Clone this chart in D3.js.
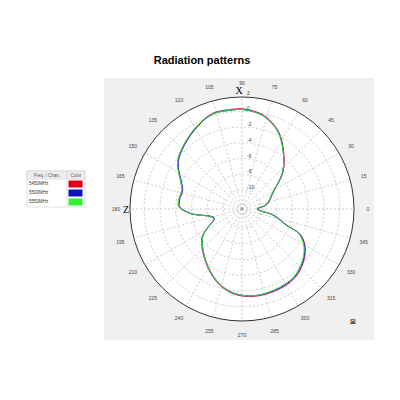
<!DOCTYPE html>
<html>
<head>
<script src="https://cdn.jsdelivr.net/npm/d3@7"></script>
<style>body{margin:0;background:#fff;font-family:"Liberation Sans",Arial,sans-serif}</style>
</head>
<body>
<script>
var angles = [0, 10, 29, 42, 54, 65, 77, 89, 97, 107, 118, 132, 144, 156, 162, 172, 178, 185, 198, 209, 216, 235, 251, 264, 278, 296, 310, 326, 336, 340, 349, 360];
var s5450 = [-10.4, -9.2, -7.8, -5.4, -3.4, -1.5, -0.2, 0.3, 0.3, 0.3, -0.4, -1.4, -2.3, -3.9, -4.4, -4.3, -4.4, -5.8, -8.6, -7.3, -6.1, -4.3, -2.6, -1.6, -1.2, -1.2, -1.5, -2.7, -4.2, -6.3, -8.3, -10.4];
var s5500 = [-10.5, -9.3, -7.9, -5.5, -3.5, -1.6, -0.3, 0.2, 0.2, 0.2, -0.5, -1.5, -2.4, -4.0, -4.5, -4.4, -4.5, -5.9, -8.7, -7.4, -6.2, -4.4, -2.7, -1.7, -1.3, -1.3, -1.6, -2.8, -4.3, -6.4, -8.4, -10.5];
var s5550 = [-10.5, -9.3, -7.9, -5.5, -3.5, -1.6, -0.3, 0.2, 0.2, 0.2, -0.4, -1.4, -2.3, -3.9, -4.4, -4.3, -4.4, -5.8, -8.6, -7.4, -6.2, -4.4, -2.7, -1.7, -1.3, -1.4, -1.7, -2.9, -4.4, -6.5, -8.4, -10.5];
var ringVals = [-10, -8, -6, -4, -2, 0];
var legendRows = ["5450MHz", "5500MHz", "5550MHz"];
var colors = ["#e0206a", "#1a1ad0", "#2ee02e"];

var svg = d3.select("body").append("svg").attr("width", 400).attr("height", 400);
svg.append("text").attr("x", 202).attr("y", 64).attr("text-anchor", "middle")
  .attr("font-size", 11).attr("font-weight", "bold").text("Radiation patterns");
svg.append("rect").attr("x", 104).attr("y", 78).attr("width", 270).attr("height", 262).attr("fill", "#f0f0f0");

var cx = 242, cy = 209, R = 112;
var r = d3.scaleLinear().domain([-12.4, 1.8]).range([0, R]);
var g = svg.append("g").attr("transform", "translate(" + cx + "," + cy + ")");
g.append("circle").attr("r", R).attr("fill", "#fff").attr("stroke", "#333").attr("stroke-width", 1);
g.selectAll(".ring").data(ringVals).enter().append("circle")
  .attr("r", function(d){return r(d);}).attr("fill", "none")
  .attr("stroke", "#aaa").attr("stroke-dasharray", "2,2").attr("stroke-width", 0.6);
var spokes = d3.range(0, 360, 15);
g.selectAll(".spoke").data(spokes).enter().append("line")
  .attr("x2", function(d){return R*Math.cos(d*Math.PI/180);})
  .attr("y2", function(d){return -R*Math.sin(d*Math.PI/180);})
  .attr("stroke", "#aaa").attr("stroke-dasharray", "2,2").attr("stroke-width", 0.6);
g.selectAll(".alab").data(spokes).enter().append("text")
  .attr("x", function(d){return 126*Math.cos(d*Math.PI/180);})
  .attr("y", function(d){return -126*Math.sin(d*Math.PI/180)+2;})
  .attr("text-anchor", "middle").attr("font-size", 5).attr("fill", "#444").text(function(d){return d;});
g.selectAll(".rlab").data(ringVals.concat([2])).enter().append("text")
  .attr("x", 5).attr("y", function(d){return d == 2 ? -R-2 : -r(d)-1;})
  .attr("font-size", 5).attr("fill", "#444").text(function(d){return d;});
g.append("text").attr("x", -3).attr("y", -R-3).attr("text-anchor", "middle").attr("font-size", 10).attr("font-family", "Liberation Serif").text("X");
g.append("text").attr("x", -R-1).attr("y", 4).attr("text-anchor", "end").attr("font-size", 10).attr("font-family", "Liberation Serif").text("Z");
svg.append("text").attr("x", 350).attr("y", 324).attr("font-size", 7).text("⊠");

var line = d3.lineRadial().curve(d3.curveCatmullRomClosed)
  .angle(function(d){return (90 - d[0])*Math.PI/180;})
  .radius(function(d){return r(d[1]);});
[s5450, s5500, s5550].forEach(function(s, i){
  var pts = angles.slice(0, -1).map(function(a, j){return [a, s[j]];});
  g.append("path").attr("d", line(pts)).attr("fill", "none").attr("stroke", colors[i]).attr("stroke-width", 1);
});

var lg = svg.append("g").attr("transform", "translate(27,171)");
lg.append("rect").attr("width", 58).attr("height", 36).attr("fill", "#fff").attr("stroke", "#ccc").attr("stroke-width", 0.6);
lg.append("rect").attr("width", 58).attr("height", 8).attr("fill", "#eee").attr("stroke", "#ccc").attr("stroke-width", 0.6);
lg.append("line").attr("x1", 40).attr("x2", 40).attr("y2", 36).attr("stroke", "#ccc").attr("stroke-width", 0.6);
lg.append("text").attr("x", 20).attr("y", 6).attr("text-anchor", "middle").attr("font-size", 4.5).attr("fill", "#555").text("Freq. / Chan.");
lg.append("text").attr("x", 49).attr("y", 6).attr("text-anchor", "middle").attr("font-size", 4.5).attr("fill", "#555").text("Color");
legendRows.forEach(function(t, i){
  lg.append("text").attr("x", 2).attr("y", 14 + i*9).attr("font-size", 4.5).attr("fill", "#333").text(t);
  lg.append("rect").attr("x", 41.5).attr("y", 9.5 + i*9).attr("width", 14).attr("height", 7).attr("fill", ["#e0001a", "#1010c0", "#33ee33"][i]);
});
</script>
</body>
</html>
